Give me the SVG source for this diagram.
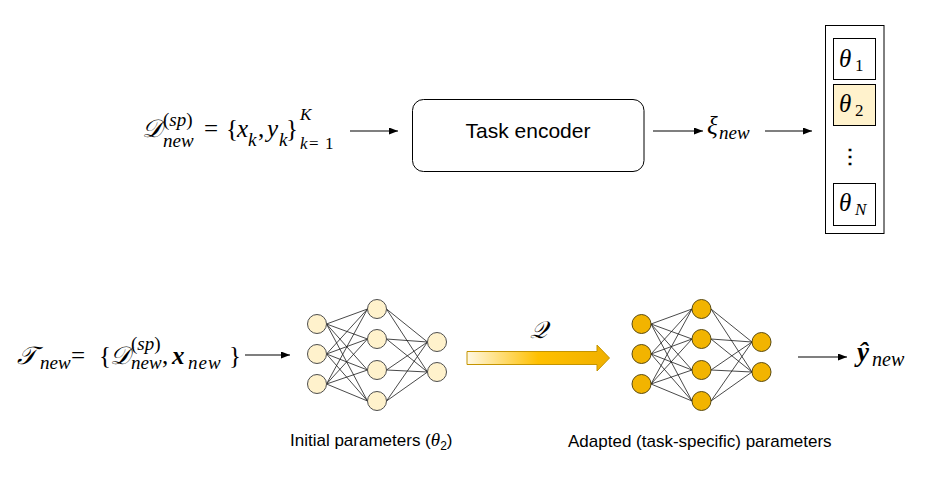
<svg xmlns="http://www.w3.org/2000/svg" xmlns:xlink="http://www.w3.org/1999/xlink" width="952" height="483" viewBox="0 0 952 483">
<style>
.m{font-family:"Liberation Serif","DejaVu Serif",serif;font-style:italic;font-size:25px;fill:#000}
.up{font-style:normal}
.s{font-size:19px}
.b{font-weight:bold}
.lbl{font-family:"Liberation Sans",Arial,sans-serif;font-size:17px;fill:#000}
.box{fill:#fff;stroke:#000;stroke-width:1}
.hl{fill:#FFF2CC}
.edge{stroke:#1a1a1a;stroke-width:0.8;fill:none}
.n1{fill:#FFF2CC;stroke:#4d4d4d;stroke-width:1}
.n2{fill:#F2B400;stroke:#5a4a10;stroke-width:1}
.conn{stroke:#000;stroke-width:1.1;fill:none;marker-end:url(#ah)}
.th{font-size:25px}
.ts{font-size:17px}
</style>
<defs>
<marker id="ah" markerUnits="userSpaceOnUse" markerWidth="10" markerHeight="8" refX="9" refY="3.5" orient="auto">
<path d="M0,0 L9,3.5 L0,7 z" fill="#000"/>
</marker>
<linearGradient id="gq" x1="0" y1="0" x2="1" y2="0">
<stop offset="0" stop-color="#FFF8E3"/>
<stop offset="0.5" stop-color="#FFC000"/>
<stop offset="1" stop-color="#F0B000"/>
</linearGradient>
<g id="nnEdges" class="edge">
<path d="M326.5,324L367.5,309M326.5,324L367.5,339M326.5,324L367.5,370M326.5,324L367.5,401
M326.5,354L367.5,309M326.5,354L367.5,339M326.5,354L367.5,370M326.5,354L367.5,401
M326.5,384L367.5,309M326.5,384L367.5,339M326.5,384L367.5,370M326.5,384L367.5,401
M386.5,309L427.5,342M386.5,309L427.5,372M386.5,339L427.5,342M386.5,339L427.5,372
M386.5,370L427.5,342M386.5,370L427.5,372M386.5,401L427.5,342M386.5,401L427.5,372"/>
</g>
</defs>
<rect width="952" height="483" fill="#fff"/>

<g id="connectors">
<line class="conn" x1="350" y1="131" x2="398" y2="131"/>
<line class="conn" x1="653" y1="131" x2="703" y2="131"/>
<line class="conn" x1="765" y1="131" x2="812" y2="131"/>
<line class="conn" x1="245" y1="355" x2="290" y2="355"/>
<line class="conn" x1="798" y1="357" x2="847" y2="357"/>
<g id="adapt-arrow">
<path d="M467,351.5 L597,351.5 L597,345 L609.5,358 L597,371 L597,364.5 L467,364.5 Z" fill="url(#gq)" stroke="#C49400" stroke-width="1"/>
<text class="m" x="530" y="338" style="font-size:24px">𝒬</text>
</g>
</g>

<g id="n-support-set">
<text class="m" x="142" y="137">𝒟</text>
<text class="m s" x="163" y="126"><tspan class="up">(</tspan>sp<tspan class="up">)</tspan></text>
<text class="m s" x="163" y="147">new</text>
<text class="m up" x="204" y="137">=</text>
<text class="m up" x="226" y="137">{</text>
<text class="m" x="237" y="137">x</text>
<text class="m s" x="248" y="146">k</text>
<text class="m up" x="258" y="137">,</text>
<text class="m" x="267" y="137">y</text>
<text class="m s" x="279" y="146">k</text>
<text class="m up" x="286" y="137">}</text>
<text class="m s" x="300" y="120" style="font-size:17px">K</text>
<text class="m s" x="300" y="149" style="font-size:17px">k</text>
<text class="m s up" x="309" y="149" style="font-size:17px">=</text>
<text class="m s up" x="325" y="149" style="font-size:17px">1</text>
</g>

<g id="n-task-encoder">
<rect class="box" x="412.5" y="99.5" width="231.5" height="72" rx="11"/>
<text class="lbl" x="528" y="138" text-anchor="middle" style="font-size:21px">Task encoder</text>
</g>

<g id="n-xi">
<text class="m" x="707" y="134">ξ</text>
<text class="m s" x="719" y="139">new</text>
</g>

<g id="n-theta-bank">
<rect class="box" x="825.5" y="25.5" width="58.5" height="208"/>
<rect class="box" x="833.5" y="38.5" width="42" height="41"/>
<rect class="box hl" x="833.5" y="84.5" width="42" height="41"/>
<rect class="box" x="833.5" y="183.5" width="42" height="42"/>
<text class="m th" x="839" y="67">θ</text>
<text class="m up ts" x="855" y="71">1</text>
<text class="m th" x="839" y="112">θ</text>
<text class="m up ts" x="855" y="116">2</text>
<text class="m up" x="850" y="163" text-anchor="middle" style="font-size:20px;font-weight:bold">⋮</text>
<text class="m th" x="839" y="211">θ</text>
<text class="m ts" x="855" y="215">N</text>
</g>

<g id="n-task">
<text class="m" x="17" y="364">𝒯</text>
<text class="m s" x="40" y="369">new</text>
<text class="m up" x="71" y="364">=</text>
<text class="m up" x="99" y="364">{</text>
<text class="m" x="110" y="364">𝒟</text>
<text class="m s" x="131" y="350"><tspan class="up">(</tspan>sp<tspan class="up">)</tspan></text>
<text class="m s" x="131" y="369">new</text>
<text class="m up" x="162" y="364">,</text>
<text class="m b" x="172" y="364">x</text>
<text class="m s" x="188" y="369" style="letter-spacing:1px">new</text>
<text class="m up" x="229" y="364">}</text>
</g>

<g id="n-net-initial">
<use xlink:href="#nnEdges" href="#nnEdges"/>
<circle class="n1" cx="317" cy="324" r="9.5"/>
<circle class="n1" cx="317" cy="354" r="9.5"/>
<circle class="n1" cx="317" cy="384" r="9.5"/>
<circle class="n1" cx="377" cy="309" r="9.5"/>
<circle class="n1" cx="377" cy="339" r="9.5"/>
<circle class="n1" cx="377" cy="370" r="9.5"/>
<circle class="n1" cx="377" cy="401" r="9.5"/>
<circle class="n1" cx="437" cy="342" r="9.5"/>
<circle class="n1" cx="437" cy="372" r="9.5"/>
<text class="lbl" x="290" y="446">Initial parameters (<tspan style="font-family:'Liberation Serif',serif;font-style:italic;font-size:19px">θ</tspan><tspan dy="4" style="font-size:12px">2</tspan><tspan dy="-4">)</tspan></text>
</g>

<g id="n-net-adapted">
<g transform="translate(324.5,0)">
<use xlink:href="#nnEdges" href="#nnEdges"/>
<circle class="n2" cx="317" cy="324" r="9.5"/>
<circle class="n2" cx="317" cy="354" r="9.5"/>
<circle class="n2" cx="317" cy="384" r="9.5"/>
<circle class="n2" cx="377" cy="309" r="9.5"/>
<circle class="n2" cx="377" cy="339" r="9.5"/>
<circle class="n2" cx="377" cy="370" r="9.5"/>
<circle class="n2" cx="377" cy="401" r="9.5"/>
<circle class="n2" cx="437" cy="342" r="9.5"/>
<circle class="n2" cx="437" cy="372" r="9.5"/>
</g>
<text class="lbl" x="568" y="447">Adapted (task-specific) parameters</text>
</g>

<g id="n-y-new">
<text class="m b" x="857" y="361" style="font-size:27px">ŷ</text>
<text class="m s" x="872" y="366" style="font-size:20px">new</text>
</g>
</svg>
